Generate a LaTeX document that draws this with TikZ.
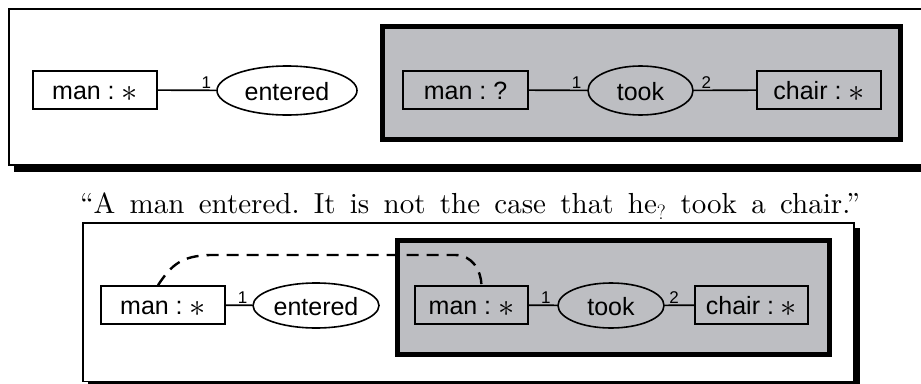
\documentclass[tikz,border=0pt]{standalone}
\usepackage{fontspec}
\usepackage{tikz}
\usetikzlibrary{shapes.geometric}
\newfontfamily\arialfont{Liberation Sans}
\newfontfamily\romanfont{lmroman10-regular}[Extension=.otf,Ligatures=TeX]
\definecolor{grisfondo}{RGB}{189,190,194}
\newcommand{\asterisco}{\raisebox{-1.5pt}{\scalebox{1.3}{$\ast$}}}

\begin{document}
\frenchspacing
\begin{tikzpicture}[x=1pt,y=-1pt,
    concepto/.style={draw,line width=1.6pt,rectangle,minimum height=38pt,inner sep=0pt,
        text height=19pt,text depth=0pt,font=\arialfont\fontsize{25}{30}\selectfont},
    relacion/.style={draw,line width=1.6pt,ellipse,inner sep=0pt,
        text height=19pt,text depth=0pt,font=\arialfont\fontsize{25}{30}\selectfont},
    arco/.style={line width=1.6pt},
    num/.style={anchor=south,inner sep=1pt,font=\arialfont\fontsize{17}{20}\selectfont},
    marco/.style={draw,fill=white,line width=1.8pt},
    contexto/.style={draw,fill=grisfondo,line width=5pt},
    enlace/.style={line width=2.4pt,dash pattern=on 12pt off 8pt}]
    \useasboundingbox (0,0) rectangle (921,383);

    % Primer grafo: negacion sin enlace
    \fill (14,15) rectangle (940,172);
    \draw[marco] (9,9) rectangle (935,165);
    \draw[contexto] (382.5,26.5) rectangle (900.5,139);
    \node[concepto,minimum width=124pt] (hombreA) at (95,90) {man : \asterisco};
    \node[relacion,minimum width=140pt,minimum height=49pt] (entroA) at (287,90.5) {entered};
    \node[concepto,minimum width=125pt] (hombreB) at (465.5,90) {man : ?};
    \node[relacion,minimum width=105pt,minimum height=49pt] (tomoA) at (640.5,90.5) {took};
    \node[concepto,minimum width=124pt] (sillaA) at (819,90) {chair : \asterisco};
    \draw[arco] (hombreA) -- node[num,pos=0.83] {1} (entroA);
    \draw[arco] (hombreB) -- node[num,pos=0.82] {1} (tomoA);
    \draw[arco] (tomoA) -- node[num,pos=0.2] {2} (sillaA);

    % Frase
    \node[anchor=base,inner sep=0pt,font=\romanfont\fontsize{29}{35}\selectfont] (frase) at (470,213.5)
        {\makebox[780pt][s]{“A man entered. It is not the case that he$_?$ took a chair.”}};

    % Segundo grafo: con linea de correferencia
    \fill (88,228) rectangle (860,390);
    \draw[marco] (83,223) rectangle (854,381.5);
    \draw[contexto] (397.5,240) rectangle (829,354);
    \node[concepto,minimum width=124pt] (hombreC) at (163,305) {man : \asterisco};
    \node[relacion,minimum width=126pt,minimum height=45pt] (entroB) at (316,305.5) {entered};
    \node[concepto,minimum width=113pt] (hombreD) at (471.5,305) {man : \asterisco};
    \node[relacion,minimum width=106pt,minimum height=45pt] (tomoB) at (611,305.5) {took};
    \node[concepto,minimum width=113pt] (sillaB) at (751.5,305) {chair : \asterisco};
    \draw[arco] (hombreC) -- node[num,pos=0.64] {1} (entroB);
    \draw[arco] (hombreD) -- node[num,pos=0.6] {1} (tomoB);
    \draw[arco] (tomoB) -- node[num,pos=0.32] {2} (sillaB);
    \draw[enlace] ([xshift=-5pt]hombreC.north) .. controls (172,264) and (182,256) .. (210,255)
        -- (455,255) .. controls (472,255) and (481,270) .. ([xshift=10pt]hombreD.north);
\end{tikzpicture}
\end{document}
